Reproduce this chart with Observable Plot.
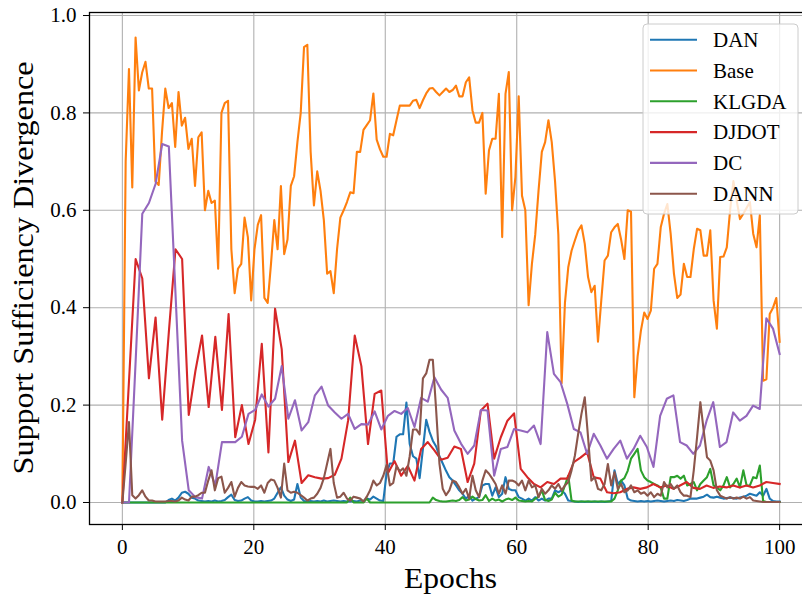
<!DOCTYPE html>
<html><head><meta charset="utf-8">
<script src="https://cdn.jsdelivr.net/npm/d3@7"></script>
<script src="https://cdn.jsdelivr.net/npm/@observablehq/plot@0.6"></script>
<style>
html,body{margin:0;padding:0;background:#fff;}
#wrap{width:802px;height:594px;overflow:hidden;position:relative;background:#fff;}
#wrap svg{max-width:none !important;width:813px !important;height:594px !important;}
</style></head><body><div id="wrap"></div>
<script>
// ---- data ----
const base = [0.0,0.70,0.89,0.647,0.955,0.846,0.883,0.905,0.85,0.85,
0.66,0.652,0.76,0.85,0.81,0.82,0.73,0.843,0.774,0.79,
0.726,0.747,0.65,0.75,0.76,0.60,0.64,0.615,0.62,0.48,
0.80,0.82,0.825,0.52,0.43,0.48,0.49,0.585,0.545,0.415,
0.52,0.57,0.59,0.42,0.41,0.49,0.58,0.52,0.65,0.51,
0.54,0.65,0.67,0.74,0.80,0.935,0.94,0.72,0.61,0.68,
0.64,0.58,0.47,0.475,0.43,0.52,0.585,0.60,0.617,0.637,
0.635,0.72,0.72,0.765,0.775,0.785,0.84,0.745,0.725,0.71,
0.71,0.757,0.754,0.785,0.815,0.815,0.815,0.815,0.825,0.827,
0.81,0.826,0.84,0.85,0.851,0.843,0.836,0.843,0.85,0.843,
0.847,0.856,0.834,0.834,0.863,0.873,0.805,0.78,0.78,0.80,
0.634,0.723,0.747,0.747,0.839,0.545,0.839,0.884,0.60,0.668,
0.834,0.63,0.60,0.405,0.49,0.55,0.64,0.72,0.74,0.785,
0.74,0.66,0.55,0.245,0.41,0.483,0.517,0.538,0.558,0.569,
0.531,0.463,0.432,0.445,0.33,0.415,0.497,0.507,0.555,0.565,
0.572,0.54,0.50,0.60,0.597,0.216,0.30,0.353,0.39,0.377,
0.394,0.48,0.49,0.565,0.593,0.613,0.552,0.47,0.42,0.427,
0.49,0.463,0.463,0.52,0.562,0.559,0.507,0.507,0.559,0.415,
0.357,0.504,0.505,0.524,0.60,0.66,0.62,0.582,0.593,0.605,
0.617,0.552,0.524,0.59,0.25,0.253,0.387,0.40,0.42,0.33];

const dan = [0,0,0,0,0,0,0,0,0,0,
0,0,0,0,0.005,0.008,0.004,0.01,0.02,0.022,
0.018,0.01,0.008,0.004,0.003,0.002,0.003,0.002,0.004,0.002,
0.003,0.005,0.011,0.016,0.005,0.003,0.004,0.008,0.011,0.004,
0.002,0.002,0.003,0.002,0.003,0.004,0.008,0.02,0.031,0.014,
0.006,0.003,0.006,0.038,0.01,0.003,0.002,0.003,0.002,0.003,
0.002,0.004,0.002,0.003,0.004,0.003,0.002,0.003,0.002,0.002,
0.003,0.002,0.004,0.003,0.008,0.006,0.012,0.008,0.004,0.003,
0.06,0.08,0.08,0.135,0.14,0.14,0.205,0.12,0.095,0.09,
0.05,0.11,0.17,0.145,0.127,0.115,0.095,0.08,0.065,0.052,
0.045,0.035,0.025,0.018,0.008,0.014,0.004,0.008,0.011,0.035,
0.038,0.038,0.014,0.031,0.011,0.018,0.052,0.028,0.025,0.025,
0.011,0.008,0.004,0.008,0.004,0.011,0.004,0.008,0.004,0.008,
0.008,0.025,0.021,0.025,0.018,0.004,0.003,0.002,0.001,0.002,
0.001,0.002,0.001,0.002,0.001,0.002,0.001,0.002,0.003,0.066,
0.038,0.045,0.035,0.008,0.004,0.003,0.002,0.003,0.002,0.003,
0.002,0.003,0.004,0.003,0.002,0.003,0.004,0.003,0.005,0.004,
0.003,0.005,0.008,0.008,0.008,0.01,0.012,0.016,0.011,0.01,
0.012,0.01,0.008,0.009,0.01,0.009,0.008,0.01,0.012,0.014,
0.018,0.016,0.014,0.021,0.014,0.028,0.008,0.003,0.002,0.002];

const klgda = [0,0,0,0,0,0,0,0,0,0,
0,0,0,0,0,0,0,0,0,0,
0,0,0,0,0,0,0,0,0,0,
0,0,0,0,0,0,0,0,0,0,
0,0,0,0,0,0,0,0,0,0,
0,0,0,0,0,0,0,0,0,0,
0,0,0,0,0,0,0,0,0,0.01,
0,0,0,0,0.008,0,0,0,0,0,
0,0,0,0,0,0,0,0,0,0,
0,0,0,0,0.01,0.005,0.003,0.002,0.002,0.003,
0.004,0.003,0.005,0.011,0.004,0.006,0.012,0.007,0.004,0.005,
0.015,0.003,0.008,0.004,0.006,0.002,0.006,0.008,0.005,0.01,
0.004,0.003,0.002,0.003,0.002,0.008,0.012,0.025,0.005,0.003,
0.006,0.02,0.012,0.016,0.035,0.055,0.004,0.002,0.002,0.002,
0.002,0.002,0.002,0.002,0.002,0.002,0.002,0.002,0.002,0.008,
0.025,0.045,0.05,0.065,0.09,0.1,0.11,0.066,0.052,0.045,
0.042,0.038,0.035,0.03,0.008,0.008,0.052,0.052,0.055,0.049,
0.055,0.035,0.038,0.042,0.025,0.038,0.045,0.052,0.069,0.035,
0.031,0.025,0.035,0.052,0.031,0.038,0.049,0.031,0.066,0.035,
0.035,0.052,0.05,0.076,0.003,0.001,0.001,0.001,0.001,0.001];

const djdot = [0.0,0.25,0.50,0.46,0.255,0.38,0.17,0.35,0.52,0.50,
0.18,0.27,0.343,0.196,0.34,0.19,0.387,0.134,0.20,0.12,
0.17,0.326,0.103,0.398,0.315,0.083,0.127,0.04,0.056,0.052,
0.049,0.05,0.057,0.09,0.168,0.343,0.28,0.12,0.223,0.23,
0.06,0.085,0.055,0.075,0.045,0.11,0.124,0.107,0.088,0.092,
0.115,0.11,0.042,0.08,0.189,0.203,0.09,0.134,0.168,0.183,
0.069,0.052,0.038,0.031,0.042,0.038,0.049,0.049,0.083,0.092,
0.103,0.052,0.049,0.021,0.019,0.021,0.028,0.031,0.028,0.031,
0.038,0.031,0.035,0.028,0.035,0.042,0.03,0.028,0.035,0.03,
0.033,0.031,0.035,0.031,0.035,0.031,0.035,0.042,0.04,0.038];

const dc = [0,0.0,0.29,0.593,0.615,0.654,0.736,0.731,0.43,0.127,
0.025,0.011,0.008,0.073,0.035,0.124,0.124,0.124,0.135,0.182,
0.19,0.222,0.197,0.213,0.28,0.172,0.21,0.148,0.165,0.22,
0.238,0.199,0.185,0.172,0.182,0.151,0.161,0.16,0.187,0.15,
0.178,0.188,0.182,0.194,0.155,0.215,0.207,0.257,0.232,0.215,
0.148,0.121,0.10,0.117,0.19,0.189,0.055,0.11,0.114,0.151,
0.148,0.144,0.158,0.12,0.35,0.264,0.247,0.203,0.151,0.144,
0.10,0.141,0.117,0.09,0.11,0.127,0.09,0.11,0.137,0.114,
0.073,0.178,0.213,0.22,0.124,0.117,0.10,0.117,0.168,0.206,
0.114,0.124,0.185,0.168,0.178,0.199,0.192,0.378,0.357,0.305];

const dann = [0.0,0.08,0.165,0.015,0.008,0.015,0.025,0.012,0.004,0.004,
0.002,0.002,0.002,0.002,0.003,0.003,0.002,0.004,0.01,0.006,
0.004,0.012,0.012,0.015,0.02,0.02,0.045,0.066,0.025,0.05,
0.053,0.02,0.03,0.042,0.012,0.03,0.042,0.035,0.033,0.032,
0.032,0.028,0.035,0.02,0.04,0.047,0.045,0.03,0.01,0.08,
0.025,0.02,0.022,0.02,0.015,0.01,0.004,0.008,0.01,0.018,
0.03,0.05,0.08,0.11,0.04,0.01,0.012,0.02,0.008,0.004,
0.012,0.01,0.008,0.002,0.012,0.025,0.045,0.035,0.04,0.055,
0.077,0.035,0.04,0.075,0.064,0.07,0.055,0.095,0.15,0.15,
0.14,0.255,0.265,0.293,0.293,0.19,0.08,0.028,0.015,0.025,
0.045,0.042,0.031,0.018,0.028,0.008,0.055,0.025,0.011,0.045,
0.066,0.059,0.049,0.038,0.018,0.035,0.018,0.045,0.045,0.042,
0.035,0.045,0.025,0.045,0.031,0.035,0.011,0.028,0.018,0.025,
0.035,0.028,0.038,0.025,0.035,0.042,0.066,0.096,0.141,0.182,
0.216,0.134,0.045,0.052,0.028,0.025,0.038,0.079,0.035,0.062,
0.028,0.038,0.021,0.025,0.035,0.021,0.025,0.018,0.021,0.014,
0.021,0.011,0.018,0.014,0.042,0.031,0.038,0.028,0.035,0.021,
0.014,0.014,0.011,0.066,0.134,0.206,0.148,0.093,0.086,0.066,
0.025,0.014,0.011,0.008,0.011,0.008,0.01,0.008,0.012,0.008,
0.011,0.004,0.003,0.002,0.001,0.001,0.001,0.001,0.001,0.001];

const seriesNames = ["DAN","Base","KLGDA","DJDOT","DC","DANN"];
const seriesColors = ["#1f77b4","#ff7f0e","#2ca02c","#d62728","#9467bd","#8c564b"];
const seriesValues = [dan, base, klgda, djdot, dc, dann];
const xTicks = [0,20,40,60,80,100];
const yTicks = [0,0.2,0.4,0.6,0.8,1.0];
const xLabel = "Epochs";
const yLabel = "Support Sufficiency Divergence";

// each series is logged at evenly spaced points over epochs 0..100
const rows = seriesNames.flatMap((name, k) => {
  const v = seriesValues[k], n = v.length;
  return v.map((value, i) => ({name, epoch: i * 100 / (n - 1), value}));
});

const FONT = "'Liberation Serif','DejaVu Serif',serif";

const chart = Plot.plot({
  width: 813, height: 594,
  marginLeft: 89, marginRight: 1, marginTop: 12, marginBottom: 70,
  x: {domain: [-5, 105]},
  y: {domain: [-0.0452, 1.0062]},
  style: {fontFamily: FONT, fontSize: "21px", color: "#000", background: "#fff", maxWidth: "none"},
  marks: [
    Plot.gridX(xTicks, {stroke: "#b0b0b0", strokeOpacity: 1, strokeWidth: 1.1}),
    Plot.gridY(yTicks, {stroke: "#b0b0b0", strokeOpacity: 1, strokeWidth: 1.1}),
    ...seriesNames.map((name, k) => Plot.line(rows.filter(d => d.name === name), {
      x: "epoch", y: "value", stroke: seriesColors[k], strokeWidth: 2.1,
      strokeLinejoin: "round", strokeLinecap: "square"
    })),
    Plot.axisX(xTicks, {tickSize: 6, tickPadding: 9, label: null, fontSize: 21, tickFormat: d3.format("d")}),
    Plot.axisY(yTicks, {tickSize: 6, tickPadding: 7, label: null, fontSize: 21, tickFormat: d3.format(".1f")}),
    Plot.frame({stroke: "#000", strokeWidth: 1.3})
  ]
});
document.getElementById("wrap").appendChild(chart);

// axis titles and legend, placed on the plot's SVG
const svg = d3.select(chart);
svg.append("text").attr("x", 450.5).attr("y", 588)
  .attr("text-anchor", "middle").attr("font-family", FONT).attr("font-size", 30)
  .attr("textLength", 93).attr("lengthAdjust", "spacingAndGlyphs").text(xLabel);
svg.append("text").attr("transform", "translate(33,268) rotate(-90)")
  .attr("text-anchor", "middle").attr("font-family", FONT).attr("font-size", 30)
  .attr("textLength", 413).attr("lengthAdjust", "spacingAndGlyphs").text(yLabel);

const lg = svg.append("g").attr("text-anchor", "start");
lg.append("rect").attr("x", 643).attr("y", 24).attr("width", 155).attr("height", 190)
  .attr("rx", 4).attr("fill", "#fff").attr("fill-opacity", 0.8)
  .attr("stroke", "#cccccc").attr("stroke-width", 1);
seriesNames.forEach((name, k) => {
  const yy = 39.7 + k * 30.8;
  lg.append("line").attr("x1", 650).attr("x2", 697).attr("y1", yy).attr("y2", yy)
    .attr("stroke", seriesColors[k]).attr("stroke-width", 2.1);
  lg.append("text").attr("x", 713).attr("y", yy).attr("dy", "0.35em")
    .attr("text-anchor", "start")
    .attr("font-family", FONT).attr("font-size", 21).attr("fill", "#000").text(name);
});
</script>
</body></html>
